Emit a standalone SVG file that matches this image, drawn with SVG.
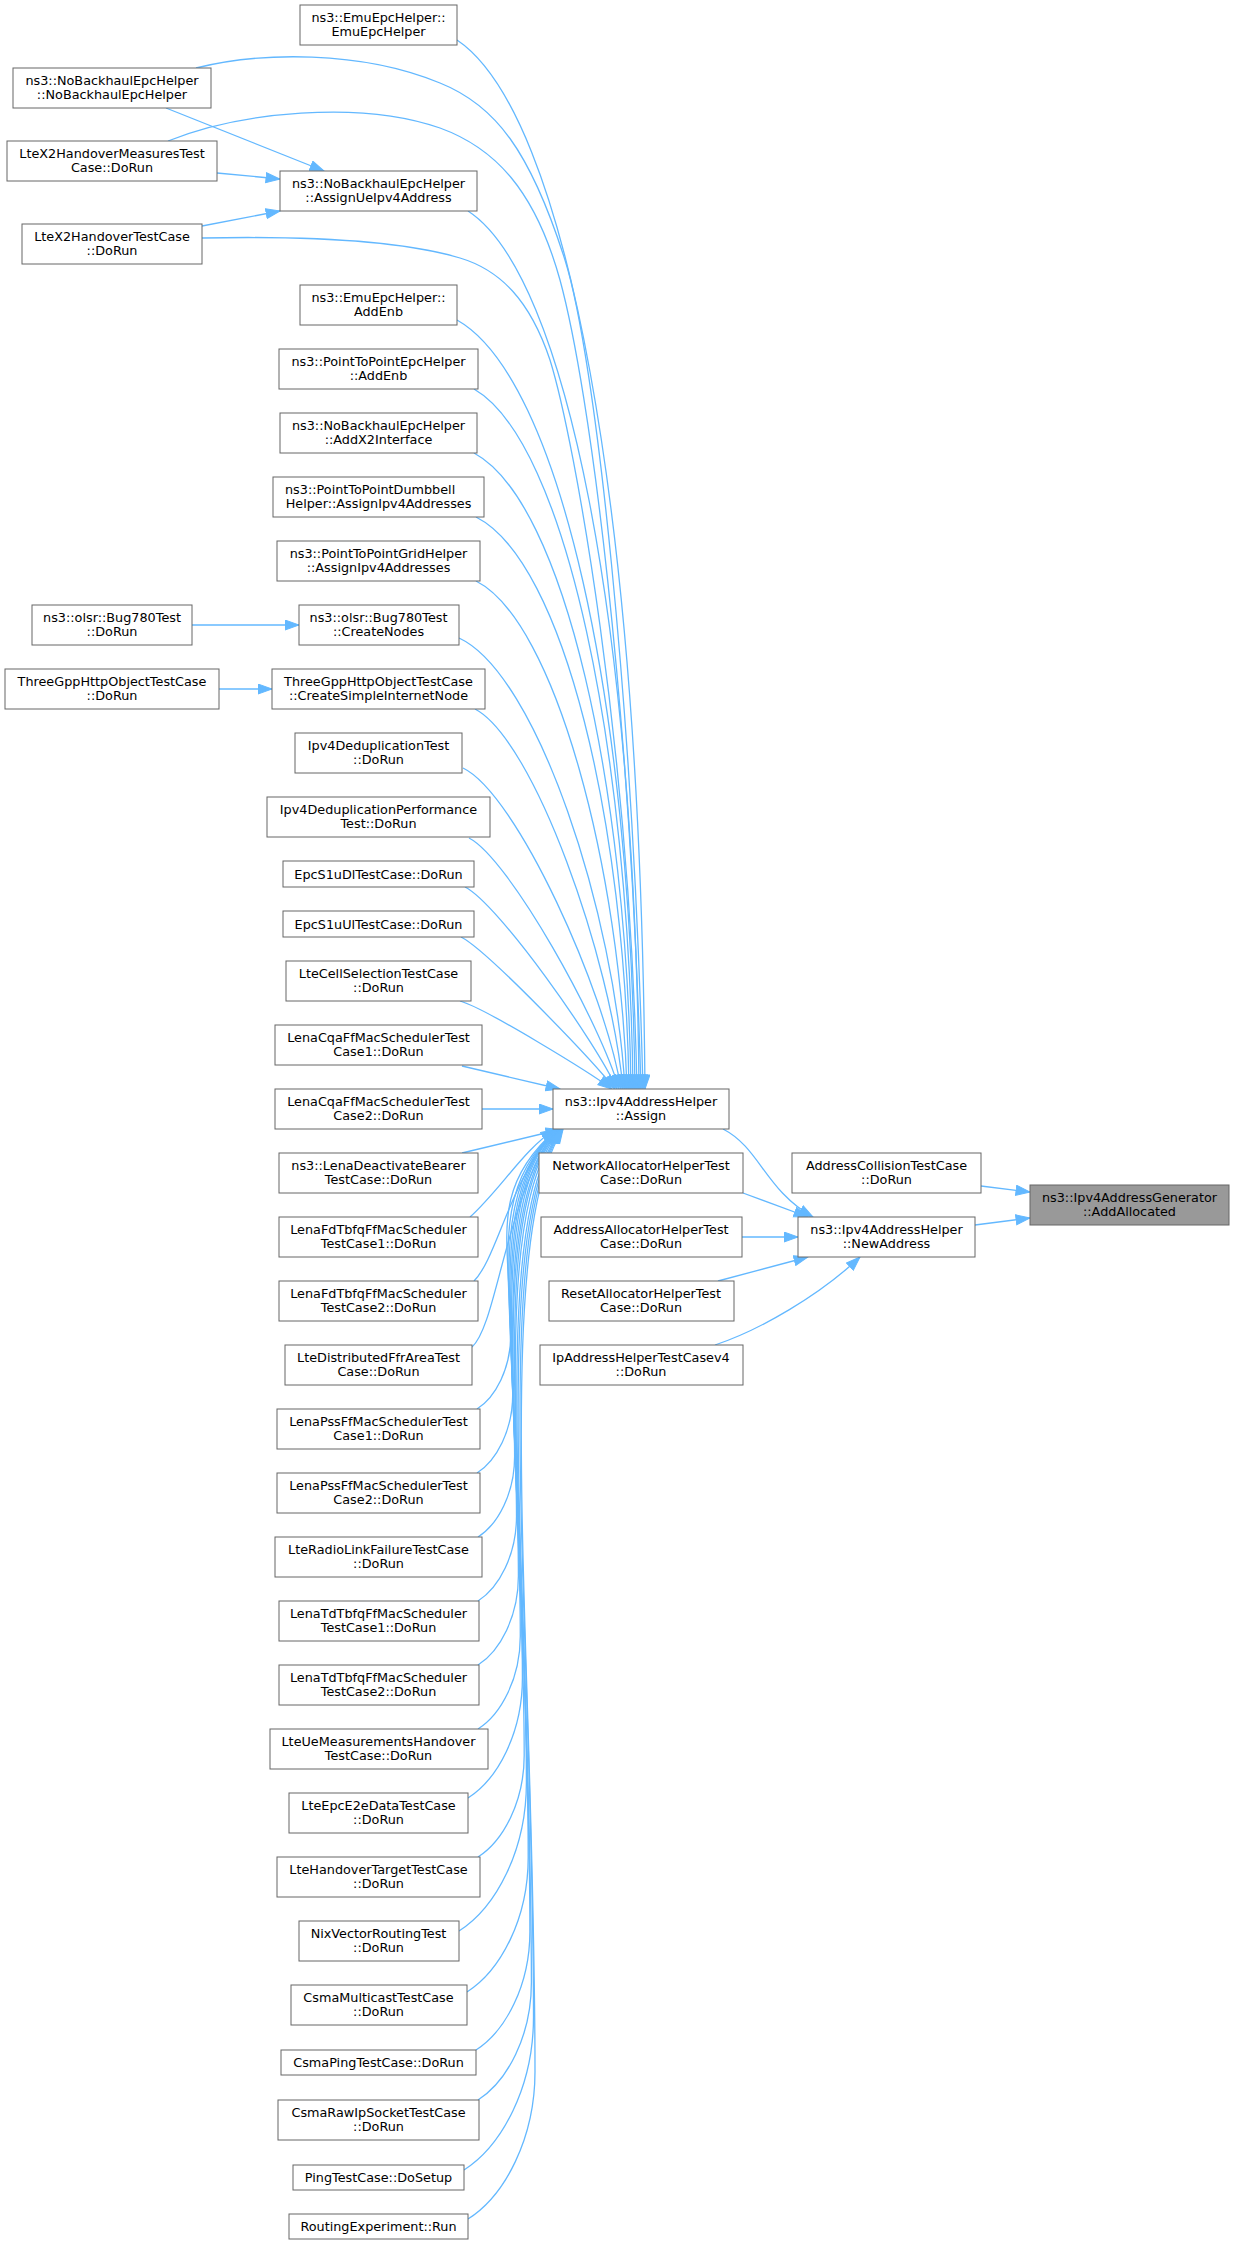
<svg xmlns="http://www.w3.org/2000/svg" width="1235" height="2244" viewBox="0 0 1235 2244">
<style>
.node rect{fill:#ffffff;stroke:#666666;stroke-width:1}
.root rect{fill:#999999;stroke:#666666;stroke-width:1}
text{font-family:"DejaVu Sans","Liberation Sans",sans-serif;font-size:12.8px;fill:#000000;text-anchor:middle}
text.l{text-anchor:start}
#edges path{fill:none;stroke:#63b8ff;stroke-width:1.3;marker-end:url(#ah)}
</style>
<defs>
<marker id="ah" markerUnits="userSpaceOnUse" markerWidth="16" markerHeight="12" refX="14.5" refY="5.5" orient="auto">
<path d="M0.5,0.5 L14.5,5.5 L0.5,10.5 Z" fill="#63b8ff" stroke="#63b8ff" stroke-width="1"/>
</marker>
</defs>
<rect x="0" y="0" width="1235" height="2244" fill="#ffffff"/>
<g id="edges">
<path d="M457,40 C566,113 640,502 645,1089"/>
<path d="M196,68 C260,52 360,50 440,83 C495,105 530,150 565,260 C595,355 633,700 643,1089"/>
<path d="M168,141 C240,112 360,100 440,128 C495,148 535,190 560,280 C590,390 630,700 641,1089"/>
<path d="M468,211 C567,275 635,627 639,1089"/>
<path d="M202,238 C300,236 400,240 460,258 C500,270 530,300 550,360 C575,440 630,750 637,1089"/>
<path d="M457,320 C560,378 630.5,703 635,1089"/>
<path d="M474,389 C566,442 629,749 633,1089"/>
<path d="M474,453 C565,502 627,789 631,1089"/>
<path d="M476,517 C564.7,561.6 625.2,827 629,1089"/>
<path d="M476,581 C555.7,621 620.5,871 627,1089"/>
<path d="M459,638 C537,674 615,913 625,1089"/>
<path d="M475,709 C534,740 611,958 623,1089"/>
<path d="M463,768 C517,794 605.4,991.4 621,1089"/>
<path d="M469,838 C509.6,858.8 601,1024.5 619,1089"/>
<path d="M465,887 C498.7,904 596.6,1043.6 617,1089"/>
<path d="M461,937 C487,950 592,1060 615,1089"/>
<path d="M460,1001 C486,1008.5 589,1072 612,1089"/>
<path d="M462,1066 L560,1089"/>
<path d="M482,1109 L553,1109"/>
<path d="M462,1153 L560,1129.5"/>
<path d="M470,1217 C500,1190 525,1148 555,1129.5"/>
<path d="M474,1281 C497,1258 510,1180 555.5,1129.5"/>
<path d="M472,1347 C497,1325 505,1200 556,1129.5"/>
<path d="M477,1409 C495.5,1397.2 510.7,1368.6 510.7,1334.9 C510.7,1242.7 486.9,1190 556.5,1129.5"/>
<path d="M477,1473 C496.6,1460.5 512.7,1430.2 512.7,1394.5 C512.7,1275.5 486.4,1190 557,1129.5"/>
<path d="M478,1537 C498.1,1524.2 514.6,1493.1 514.6,1456.5 C514.6,1309.6 485.6,1190 557.5,1129.5"/>
<path d="M478,1601 C499.2,1587.5 516.5,1554.8 516.5,1516.3 C516.5,1342.5 484.9,1190 558,1129.5"/>
<path d="M478,1665 C500.2,1650.9 518.4,1616.5 518.4,1576.1 C518.4,1375.4 484.3,1190 558.5,1129.5"/>
<path d="M478,1729 C501.3,1714.2 520.3,1678.2 520.3,1635.9 C520.3,1408.3 483.6,1190.7 559,1129.5"/>
<path d="M468,1798 C497.9,1779 522.4,1732.7 522.4,1678.3 C522.4,1431.6 483.9,1195.8 559.5,1129.5"/>
<path d="M478,1857 C503.4,1840.8 524.2,1801.6 524.2,1755.4 C524.2,1474 482.4,1205 560,1129.5"/>
<path d="M459,1931 C496.1,1907.4 526.4,1850.1 526.4,1782.7 C526.4,1489 483.4,1208.3 560.5,1129.5"/>
<path d="M467,1992 C500.7,1970.6 528.2,1918.6 528.2,1857.4 C528.2,1530.1 483.2,1217.3 561,1129.5"/>
<path d="M476,2050 C505.6,2031.1 529.9,1985.3 529.9,1931.4 C529.9,1570.8 484.9,1226.2 561.5,1129.5"/>
<path d="M478,2100 C507.4,2081.3 531.4,2035.9 531.4,1982.5 C531.4,1598.9 486.4,1232.3 562,1129.5"/>
<path d="M464,2170 C502.2,2145.7 533.5,2086.6 533.5,2017.1 C533.5,1617.9 488.5,1236.5 562.5,1129.5"/>
<path d="M468,2219 C504.9,2195.6 535,2138.6 535,2071.6 C535,1647.7 490,1243 563,1129.5"/>
<path d="M166,108 L324,171"/>
<path d="M217,173 L280,179"/>
<path d="M202,226 L280,211"/>
<path d="M192,625 L299,625"/>
<path d="M219,689 L272,689"/>
<path d="M723,1129 C760,1148 765,1190 813,1217"/>
<path d="M743,1193 L808,1217"/>
<path d="M742,1237 L798,1237"/>
<path d="M718,1281 L808,1257"/>
<path d="M715,1345 C760,1330 820,1295 860,1257"/>
<path d="M981,1186 L1030,1192"/>
<path d="M975,1225 L1030,1218"/>
</g>
<g id="n_a1" class="node"><rect x="13" y="68" width="198" height="40"/><text x="112" y="84.5">ns3::NoBackhaulEpcHelper</text><text x="112" y="99">::NoBackhaulEpcHelper</text></g>
<g id="n_a2" class="node"><rect x="7" y="141" width="210" height="40"/><text x="112" y="157.5">LteX2HandoverMeasuresTest</text><text x="112" y="172">Case::DoRun</text></g>
<g id="n_a3" class="node"><rect x="22" y="224" width="180" height="40"/><text x="112" y="240.5">LteX2HandoverTestCase</text><text x="112" y="255">::DoRun</text></g>
<g id="n_a4" class="node"><rect x="32" y="605" width="160" height="40"/><text x="112" y="621.5">ns3::olsr::Bug780Test</text><text x="112" y="636">::DoRun</text></g>
<g id="n_a5" class="node"><rect x="5" y="669" width="214" height="40"/><text x="112" y="685.5">ThreeGppHttpObjectTestCase</text><text x="112" y="700">::DoRun</text></g>
<g id="n_b1" class="node"><rect x="300" y="5" width="157" height="40"/><text x="378.5" y="21.5">ns3::EmuEpcHelper::</text><text x="378.5" y="36">EmuEpcHelper</text></g>
<g id="n_b2" class="node"><rect x="280" y="171" width="197" height="40"/><text x="378.5" y="187.5">ns3::NoBackhaulEpcHelper</text><text x="378.5" y="202">::AssignUeIpv4Address</text></g>
<g id="n_b3" class="node"><rect x="300" y="285" width="157" height="40"/><text x="378.5" y="301.5">ns3::EmuEpcHelper::</text><text x="378.5" y="316">AddEnb</text></g>
<g id="n_b4" class="node"><rect x="279" y="349" width="199" height="40"/><text x="378.5" y="365.5">ns3::PointToPointEpcHelper</text><text x="378.5" y="380">::AddEnb</text></g>
<g id="n_b5" class="node"><rect x="280" y="413" width="197" height="40"/><text x="378.5" y="429.5">ns3::NoBackhaulEpcHelper</text><text x="378.5" y="444">::AddX2Interface</text></g>
<g id="n_b6" class="node"><rect x="273" y="477" width="211" height="40"/><text class="l" x="285" y="493.5">ns3::PointToPointDumbbell</text><text x="378.5" y="508">Helper::AssignIpv4Addresses</text></g>
<g id="n_b7" class="node"><rect x="277" y="541" width="203" height="40"/><text x="378.5" y="557.5">ns3::PointToPointGridHelper</text><text x="378.5" y="572">::AssignIpv4Addresses</text></g>
<g id="n_b8" class="node"><rect x="299" y="605" width="160" height="40"/><text x="378.5" y="621.5">ns3::olsr::Bug780Test</text><text x="378.5" y="636">::CreateNodes</text></g>
<g id="n_b9" class="node"><rect x="272" y="669" width="213" height="40"/><text x="378.5" y="685.5">ThreeGppHttpObjectTestCase</text><text x="378.5" y="700">::CreateSimpleInternetNode</text></g>
<g id="n_b10" class="node"><rect x="295" y="733" width="167" height="40"/><text x="378.5" y="749.5">Ipv4DeduplicationTest</text><text x="378.5" y="764">::DoRun</text></g>
<g id="n_b11" class="node"><rect x="267" y="797" width="223" height="40"/><text x="378.5" y="813.5">Ipv4DeduplicationPerformance</text><text x="378.5" y="828">Test::DoRun</text></g>
<g id="n_b12" class="node"><rect x="283" y="861" width="191" height="26"/><text x="378.5" y="878.5">EpcS1uDlTestCase::DoRun</text></g>
<g id="n_b13" class="node"><rect x="283" y="911" width="191" height="26"/><text x="378.5" y="928.5">EpcS1uUlTestCase::DoRun</text></g>
<g id="n_b14" class="node"><rect x="286" y="961" width="185" height="40"/><text x="378.5" y="977.5">LteCellSelectionTestCase</text><text x="378.5" y="992">::DoRun</text></g>
<g id="n_b15" class="node"><rect x="275" y="1025" width="207" height="40"/><text x="378.5" y="1041.5">LenaCqaFfMacSchedulerTest</text><text x="378.5" y="1056">Case1::DoRun</text></g>
<g id="n_b16" class="node"><rect x="275" y="1089" width="207" height="40"/><text x="378.5" y="1105.5">LenaCqaFfMacSchedulerTest</text><text x="378.5" y="1120">Case2::DoRun</text></g>
<g id="n_b17" class="node"><rect x="279" y="1153" width="199" height="40"/><text x="378.5" y="1169.5">ns3::LenaDeactivateBearer</text><text x="378.5" y="1184">TestCase::DoRun</text></g>
<g id="n_b18" class="node"><rect x="279" y="1217" width="199" height="40"/><text x="378.5" y="1233.5">LenaFdTbfqFfMacScheduler</text><text x="378.5" y="1248">TestCase1::DoRun</text></g>
<g id="n_b19" class="node"><rect x="279" y="1281" width="199" height="40"/><text x="378.5" y="1297.5">LenaFdTbfqFfMacScheduler</text><text x="378.5" y="1312">TestCase2::DoRun</text></g>
<g id="n_b20" class="node"><rect x="285" y="1345" width="187" height="40"/><text x="378.5" y="1361.5">LteDistributedFfrAreaTest</text><text x="378.5" y="1376">Case::DoRun</text></g>
<g id="n_b21" class="node"><rect x="277" y="1409" width="203" height="40"/><text x="378.5" y="1425.5">LenaPssFfMacSchedulerTest</text><text x="378.5" y="1440">Case1::DoRun</text></g>
<g id="n_b22" class="node"><rect x="277" y="1473" width="203" height="40"/><text x="378.5" y="1489.5">LenaPssFfMacSchedulerTest</text><text x="378.5" y="1504">Case2::DoRun</text></g>
<g id="n_b23" class="node"><rect x="275" y="1537" width="207" height="40"/><text x="378.5" y="1553.5">LteRadioLinkFailureTestCase</text><text x="378.5" y="1568">::DoRun</text></g>
<g id="n_b24" class="node"><rect x="279" y="1601" width="200" height="40"/><text x="378.5" y="1617.5">LenaTdTbfqFfMacScheduler</text><text x="378.5" y="1632">TestCase1::DoRun</text></g>
<g id="n_b25" class="node"><rect x="279" y="1665" width="200" height="40"/><text x="378.5" y="1681.5">LenaTdTbfqFfMacScheduler</text><text x="378.5" y="1696">TestCase2::DoRun</text></g>
<g id="n_b26" class="node"><rect x="270" y="1729" width="218" height="40"/><text x="378.5" y="1745.5">LteUeMeasurementsHandover</text><text x="378.5" y="1760">TestCase::DoRun</text></g>
<g id="n_b27" class="node"><rect x="289" y="1793" width="179" height="40"/><text x="378.5" y="1809.5">LteEpcE2eDataTestCase</text><text x="378.5" y="1824">::DoRun</text></g>
<g id="n_b28" class="node"><rect x="277" y="1857" width="203" height="40"/><text x="378.5" y="1873.5">LteHandoverTargetTestCase</text><text x="378.5" y="1888">::DoRun</text></g>
<g id="n_b29" class="node"><rect x="299" y="1921" width="160" height="40"/><text x="378.5" y="1937.5">NixVectorRoutingTest</text><text x="378.5" y="1952">::DoRun</text></g>
<g id="n_b30" class="node"><rect x="291" y="1985" width="176" height="40"/><text x="378.5" y="2001.5">CsmaMulticastTestCase</text><text x="378.5" y="2016">::DoRun</text></g>
<g id="n_b31" class="node"><rect x="281" y="2050" width="195" height="25"/><text x="378.5" y="2067">CsmaPingTestCase::DoRun</text></g>
<g id="n_b32" class="node"><rect x="278" y="2100" width="201" height="40"/><text x="378.5" y="2116.5">CsmaRawIpSocketTestCase</text><text x="378.5" y="2131">::DoRun</text></g>
<g id="n_b33" class="node"><rect x="293" y="2165" width="171" height="25"/><text x="378.5" y="2182">PingTestCase::DoSetup</text></g>
<g id="n_b34" class="node"><rect x="289" y="2214" width="179" height="25"/><text x="378.5" y="2231">RoutingExperiment::Run</text></g>
<g id="n_c1" class="node"><rect x="553" y="1089" width="176" height="40"/><text x="641" y="1105.5">ns3::Ipv4AddressHelper</text><text x="641" y="1120">::Assign</text></g>
<g id="n_c2" class="node"><rect x="539" y="1153" width="204" height="40"/><text x="641" y="1169.5">NetworkAllocatorHelperTest</text><text x="641" y="1184">Case::DoRun</text></g>
<g id="n_c3" class="node"><rect x="541" y="1217" width="201" height="40"/><text x="641" y="1233.5">AddressAllocatorHelperTest</text><text x="641" y="1248">Case::DoRun</text></g>
<g id="n_c4" class="node"><rect x="549" y="1281" width="185" height="40"/><text x="641" y="1297.5">ResetAllocatorHelperTest</text><text x="641" y="1312">Case::DoRun</text></g>
<g id="n_c5" class="node"><rect x="540" y="1345" width="203" height="40"/><text x="641" y="1361.5">IpAddressHelperTestCasev4</text><text x="641" y="1376">::DoRun</text></g>
<g id="n_d1" class="node"><rect x="792" y="1153" width="189" height="40"/><text x="886.5" y="1169.5">AddressCollisionTestCase</text><text x="886.5" y="1184">::DoRun</text></g>
<g id="n_d2" class="node"><rect x="798" y="1217" width="177" height="40"/><text x="886.5" y="1233.5">ns3::Ipv4AddressHelper</text><text x="886.5" y="1248">::NewAddress</text></g>
<g id="n_e1" class="node root"><rect x="1030" y="1185" width="199" height="40"/><text x="1129.5" y="1201.5">ns3::Ipv4AddressGenerator</text><text x="1129.5" y="1216">::AddAllocated</text></g>
</svg>
